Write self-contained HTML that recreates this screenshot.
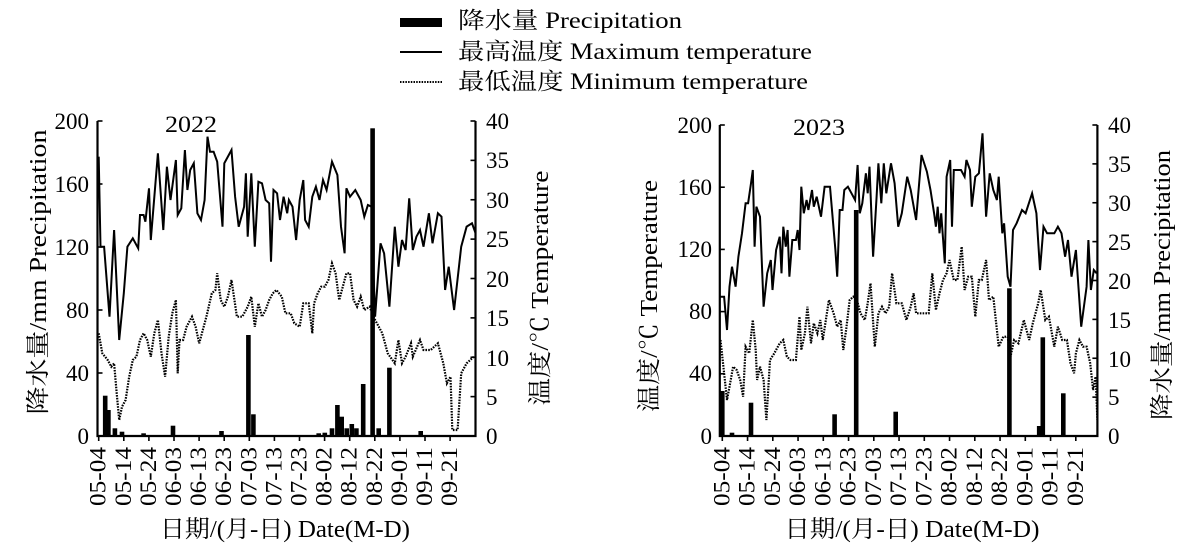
<!DOCTYPE html>
<html><head><meta charset="utf-8"><style>
body{margin:0;background:#fff}
svg{display:block}
text{font-family:"Liberation Serif","Noto Serif CJK SC","Noto Sans CJK SC",serif;fill:#000}
</style></head><body>
<svg id="s" width="1182" height="546" viewBox="0 0 1182 546" xmlns="http://www.w3.org/2000/svg">
<!-- legend -->
<rect x="400" y="18" width="42" height="9" fill="#000"/>
<text x="458" y="28" font-size="23" textLength="224" lengthAdjust="spacingAndGlyphs">降水量 Precipitation</text>
<line x1="400" y1="52" x2="442" y2="52" stroke="#000" stroke-width="2"/>
<text x="458" y="59" font-size="23" textLength="354" lengthAdjust="spacingAndGlyphs">最高温度 Maximum temperature</text>
<line x1="400" y1="82" x2="442" y2="82" stroke="#000" stroke-width="2" stroke-dasharray="1.5,1.2"/>
<text x="458" y="89" font-size="23" textLength="350" lengthAdjust="spacingAndGlyphs">最低温度 Minimum temperature</text>

<g id="c1"></g><g id="c2"></g>

<g font-size="23">
<text x="89" y="129" text-anchor="end">200</text>
<text x="89" y="192" text-anchor="end">160</text>
<text x="89" y="255" text-anchor="end">120</text>
<text x="89" y="318" text-anchor="end">80</text>
<text x="89" y="381" text-anchor="end">40</text>
<text x="89" y="444" text-anchor="end">0</text>
<text x="486" y="129">40</text><text x="486" y="168">35</text><text x="486" y="208">30</text><text x="486" y="247">25</text>
<text x="486" y="287">20</text><text x="486" y="326">15</text><text x="486" y="366">10</text><text x="486" y="405">5</text><text x="486" y="444">0</text>
<text x="165" y="132" textLength="52" lengthAdjust="spacingAndGlyphs">2022</text>
<text transform="translate(46,272) rotate(-90)" text-anchor="middle" font-size="24" textLength="285" lengthAdjust="spacingAndGlyphs">降水量/mm  Precipitation</text>
<text transform="translate(548,288) rotate(-90)" text-anchor="middle" font-size="24" textLength="235" lengthAdjust="spacingAndGlyphs">温度/℃  Temperature</text>
<text x="285" y="537" text-anchor="middle" font-size="24" textLength="250" lengthAdjust="spacingAndGlyphs">日期/(月-日)  Date(M-D)</text>

<text x="712" y="133" text-anchor="end">200</text>
<text x="712" y="195" text-anchor="end">160</text>
<text x="712" y="257" text-anchor="end">120</text>
<text x="712" y="319" text-anchor="end">80</text>
<text x="712" y="381" text-anchor="end">40</text>
<text x="712" y="444" text-anchor="end">0</text>
<text x="1108" y="133">40</text><text x="1108" y="172">35</text><text x="1108" y="211">30</text><text x="1108" y="250">25</text>
<text x="1108" y="289">20</text><text x="1108" y="328">15</text><text x="1108" y="367">10</text><text x="1108" y="405">5</text><text x="1108" y="444">0</text>
<text x="793" y="135" textLength="52" lengthAdjust="spacingAndGlyphs">2023</text>
<text transform="translate(657,296) rotate(-90)" text-anchor="middle" font-size="24" textLength="232" lengthAdjust="spacingAndGlyphs">温度/℃  Temperature</text>
<text transform="translate(1170,285) rotate(-90)" text-anchor="middle" font-size="24" textLength="270" lengthAdjust="spacingAndGlyphs">降水量/mm  Precipitation</text>
<text x="912" y="537" text-anchor="middle" font-size="24" textLength="255" lengthAdjust="spacingAndGlyphs">日期/(月-日)  Date(M-D)</text>
</g>
<g id="xl" font-size="23"></g>
</svg>
<script>
const NS="http://www.w3.org/2000/svg";
function el(p,t,a){const e=document.createElementNS(NS,t);for(const k in a)e.setAttribute(k,a[k]);p.appendChild(e);return e;}
const K=2.786;
function P(arr,ox){return arr.map(p=>(ox+p[0]/K).toFixed(1)+","+(100+p[1]/3).toFixed(1)).join(" ");}
const max22=[[275,170],[280,440],[290,440],[305,650],[318,390],[332,720],[345,580],[355,440],[370,415],[385,445],[390,345],[400,345],[405,365],[415,265],[420,420],[440,160],[455,390],[465,200],[475,300],[490,180],[495,345],[505,325],[515,150],[522,270],[530,210],[540,190],[550,340],[560,360],[570,300],[578,110],[585,155],[595,155],[605,185],[620,380],[625,190],[645,150],[655,290],[665,380],[680,320],[685,220],[690,410],[700,220],[710,440],[720,245],[730,250],[740,300],[750,310],[755,485],[762,270],[772,280],[780,360],[790,290],[800,340],[805,300],[815,320],[825,420],[835,300],[845,240],[850,360],[860,380],[870,290],[880,260],[890,300],[900,240],[910,270],[925,185],[940,225],[950,380],[960,460],[965,265],[975,290],[990,270],[1005,300],[1015,350],[1025,315],[1035,320],[1040,500],[1045,650],[1060,430],[1070,460],[1085,620],[1100,380],[1110,500],[1120,420],[1130,450],[1140,295],[1150,450],[1160,410],[1170,390],[1180,440],[1195,340],[1205,430],[1220,340],[1230,350],[1240,570],[1250,500],[1265,630],[1285,440],[1300,380],[1315,370],[1325,400]];
const min22=[[275,700],[285,760],[300,780],[310,800],[318,790],[325,880],[332,960],[340,920],[350,900],[360,830],[370,780],[380,770],[390,720],[400,700],[410,720],[420,770],[430,700],[440,660],[450,760],[460,830],[470,710],[480,640],[490,600],[495,820],[500,720],[510,720],[520,680],[535,650],[545,680],[555,730],[565,690],[575,650],[590,580],[600,570],[605,520],[615,600],[625,620],[635,590],[645,540],[660,650],[675,650],[690,620],[700,590],[710,680],[720,610],[730,650],[740,630],[750,600],[760,580],[770,570],[785,590],[795,640],[810,640],[820,670],[835,680],[845,610],[860,610],[870,700],[875,610],[885,580],[895,560],[905,560],[915,540],[925,490],[935,520],[945,600],[955,560],[965,520],[975,520],[985,600],[995,620],[1005,590],[1015,630],[1030,620],[1040,650],[1050,670],[1065,700],[1080,760],[1100,790],[1110,720],[1120,790],[1130,770],[1145,730],[1150,770],[1170,720],[1180,750],[1200,750],[1220,730],[1235,790],[1245,850],[1255,830],[1260,990],[1275,990],[1285,820],[1300,790],[1320,770]];
const bar22=[[293,887],[302,930],[320,985],[340,995],[400,1000],[482,977],[617,993],[692,705],[706,943],[888,1000],[905,998],[925,985],[940,915],[952,950],[966,985],[980,972],[993,985],[1012,852],[1038,85],[1055,985],[1085,803],[1172,993]];
const max23=[[280,590],[290,590],[298,690],[305,560],[312,500],[322,560],[330,470],[340,400],[350,310],[357,310],[365,250],[370,210],[375,440],[380,320],[390,350],[400,620],[410,520],[420,480],[425,570],[435,450],[445,410],[450,520],[455,380],[462,440],[467,390],[472,530],[480,420],[490,420],[495,390],[500,450],[505,260],[512,340],[520,300],[525,330],[535,270],[540,320],[548,290],[560,350],[570,260],[585,260],[600,450],[605,530],[612,330],[620,330],[625,270],[635,260],[645,280],[655,300],[662,195],[668,340],[675,310],[685,220],[690,280],[695,200],[705,470],[715,290],[720,190],[728,310],[735,190],[742,280],[755,190],[765,250],[775,380],[785,340],[800,230],[810,270],[825,360],[840,165],[855,215],[865,270],[875,340],[880,380],[885,320],[890,400],[895,340],[905,490],[910,230],[920,180],[925,380],[930,210],[950,210],[960,230],[965,180],[975,210],[980,320],[990,230],[1000,220],[1010,100],[1020,350],[1030,220],[1040,270],[1050,300],[1055,230],[1065,400],[1070,370],[1080,530],[1088,560],[1095,390],[1105,370],[1120,330],[1130,340],[1148,280],[1160,340],[1170,510],[1180,380],[1190,400],[1210,400],[1220,380],[1230,400],[1240,470],[1248,420],[1258,530],[1270,450],[1285,680],[1300,560],[1305,420],[1312,570],[1320,510],[1328,520]];
const min23=[[280,720],[288,800],[298,900],[305,860],[315,800],[325,810],[335,840],[343,890],[350,740],[360,760],[370,660],[378,750],[382,840],[390,800],[400,840],[408,960],[418,780],[430,760],[445,730],[455,720],[465,770],[475,780],[490,780],[500,650],[505,750],[515,700],[522,620],[532,730],[540,670],[550,700],[558,660],[565,720],[582,600],[595,640],[605,680],[615,660],[622,750],[630,690],[640,600],[650,590],[660,600],[670,640],[682,660],[690,610],[698,550],[710,740],[720,640],[730,620],[740,640],[750,620],[758,520],[770,610],[785,610],[798,660],[810,620],[818,580],[825,640],[840,640],[860,640],[870,520],[880,630],[890,580],[900,540],[910,520],[918,480],[930,540],[940,540],[952,440],[960,570],[970,530],[980,530],[990,650],[1000,540],[1008,540],[1020,480],[1028,600],[1040,590],[1055,740],[1068,710],[1080,710],[1088,770],[1098,720],[1110,730],[1125,660],[1140,720],[1150,670],[1165,610],[1172,570],[1185,660],[1195,650],[1210,740],[1220,680],[1232,720],[1245,720],[1255,790],[1265,820],[1270,760],[1280,720],[1290,740],[1300,740],[1310,790],[1318,870],[1325,830],[1330,960]];
const bar23=[[285,873],[312,998],[365,908],[598,943],[658,330],[768,935],[1085,565],[1168,978],[1178,712],[1235,880]];
function chart(g,ox,L,R,T,B,bars,mx,mn,xs,dx){
  for(const b of bars){const x=ox+b[0]/K,y=100+b[1]/3;el(g,"rect",{x:(x-2.3).toFixed(1),y:y.toFixed(1),width:4.6,height:(B-y).toFixed(1),fill:"#000"});}
  el(g,"polyline",{points:P(mn,ox),fill:"none",stroke:"#000","stroke-width":2.2,"stroke-dasharray":"1.6,1.2"});
  el(g,"polyline",{points:P(mx,ox),fill:"none",stroke:"#000","stroke-width":2});
  el(g,"path",{d:`M${L},${T}V${B}H${R}V${T}`,fill:"none",stroke:"#000","stroke-width":2.2});
  for(let i=0;i<=5;i++){const y=T+(B-T)*i/5;el(g,"line",{x1:L,x2:L+5,y1:y,y2:y,stroke:"#000","stroke-width":1.6});}
  for(let i=0;i<=8;i++){const y=T+(B-T)*i/8;el(g,"line",{x1:R-5,x2:R,y1:y,y2:y,stroke:"#000","stroke-width":1.6});}
  const labs=["05-04","05-14","05-24","06-03","06-13","06-23","07-03","07-13","07-23","08-02","08-12","08-22","09-01","09-11","09-21"];
  const xl=document.getElementById("xl");
  labs.forEach((t,i)=>{const x=xs+dx*i;el(g,"line",{x1:x,x2:x,y1:B,y2:B+5,stroke:"#000","stroke-width":1.6});
    const tx=el(xl,"text",{transform:`translate(${(x+7).toFixed(1)},447) rotate(-90)`,"text-anchor":"end",textLength:59,lengthAdjust:"spacingAndGlyphs"});tx.textContent=t;});
}
chart(document.getElementById("c1"),0,97.5,475.5,121,436,bar22,max22,min22,98.7,25.1);
chart(document.getElementById("c2"),620,719.8,1097.4,125,436,bar23,max23,min23,722.3,25.25);
</script>
</body></html>
